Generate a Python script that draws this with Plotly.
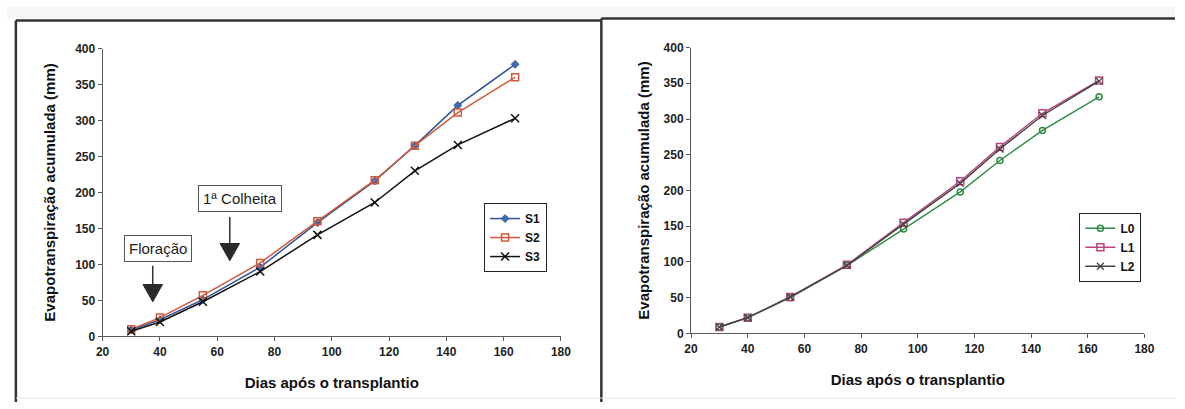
import plotly.graph_objects as go

# Days after transplanting (sampling dates)
dias = [30, 40, 55, 75, 95, 115, 129, 144, 164]

# Accumulated evapotranspiration (mm) by treatment
s1 = [9, 23, 51, 96, 158, 216, 265, 321, 378]
s2 = [10, 26, 57, 102, 160, 217, 265, 311, 360]
s3 = [7, 20, 48, 90, 141, 186, 230, 266, 303]

l0 = [9, 22, 50, 95, 146, 198, 242, 284, 331]
l1 = [9, 22, 51, 96, 155, 213, 261, 308, 354]
l2 = [9, 22, 51, 95, 153, 210, 258, 305, 353]

x_ticks = [20, 40, 60, 80, 100, 120, 140, 160, 180]
y_ticks = [0, 50, 100, 150, 200, 250, 300, 350, 400]

W, H = 1185, 409
FONT = "Liberation Sans, Arial, sans-serif"
AX = "#5a5a5a"


def px_x(p):
    return p / W


def px_y(p):
    return 1 - p / H


fig = go.Figure()

left = [
    ("S1", s1, "#2f5597", dict(symbol="diamond", size=6, color="#3c6db4",
                               line=dict(color="#2f5597", width=1))),
    ("S2", s2, "#d05a3c", dict(symbol="square-open", size=7,
                               line=dict(color="#d05a3c", width=1.5))),
    ("S3", s3, "#111111", dict(symbol="x-thin-open", size=8,
                               line=dict(color="#111111", width=1.5))),
]
for name, ys, col, mk in left:
    fig.add_trace(go.Scatter(x=dias, y=ys, name=name, mode="lines+markers",
                             line=dict(color=col, width=1.5), marker=mk,
                             xaxis="x", yaxis="y", legend="legend"))

right = [
    ("L0", l0, "#2e8b46", dict(symbol="circle-open", size=6,
                               line=dict(color="#2e8b46", width=1.5))),
    ("L1", l1, "#b8457f", dict(symbol="square-open", size=7,
                               line=dict(color="#b8457f", width=1.5))),
    ("L2", l2, "#444444", dict(symbol="x-thin-open", size=7,
                               line=dict(color="#444444", width=1.2))),
]
for name, ys, col, mk in right:
    fig.add_trace(go.Scatter(x=dias, y=ys, name=name, mode="lines+markers",
                             line=dict(color=col, width=1.4), marker=mk,
                             xaxis="x2", yaxis="y2", legend="legend2"))

axis_common = dict(
    showline=True, linecolor=AX, linewidth=1, mirror=False,
    ticks="outside", ticklen=4, tickcolor=AX, tickwidth=1,
    showgrid=False, zeroline=False,
    tickfont=dict(family=FONT, size=12, color="#222", weight="bold"),
    title_font=dict(family=FONT, size=15, color="#111", weight="bold"),
)

xtitle = "Dias após o transplantio"
ytitle = "Evapotranspiração acumulada (mm)"

legend_common = dict(
    xanchor="left", yanchor="top",
    bordercolor="#222", borderwidth=1, bgcolor="white",
    font=dict(family=FONT, size=12, color="#111", weight="bold"),
    tracegroupgap=0, itemwidth=30,
)

fig.update_layout(
    width=W, height=H,
    margin=dict(l=0, r=0, t=0, b=0),
    paper_bgcolor="white", plot_bgcolor="white",
    xaxis=dict(domain=[px_x(97), px_x(562)], range=[20, 180],
               tickvals=x_ticks, anchor="y",
               title=dict(text=xtitle, standoff=19), **axis_common),
    yaxis=dict(domain=[px_y(341), px_y(43)], range=[0, 400],
               tickvals=y_ticks, anchor="x",
               title=dict(text=ytitle, standoff=15), **axis_common),
    xaxis2=dict(domain=[px_x(694), px_x(1154)], range=[20, 180],
                tickvals=x_ticks, anchor="y2",
                title=dict(text=xtitle, standoff=19), **axis_common),
    yaxis2=dict(domain=[px_y(338), px_y(42)], range=[0, 400],
                tickvals=y_ticks, anchor="x2",
                title=dict(text=ytitle, standoff=10), **axis_common),
    legend=dict(x=px_x(484), y=px_y(203), **legend_common),
    legend2=dict(x=px_x(1088), y=px_y(213), **legend_common),
    showlegend=True,
)

# Event labels on the left chart
events = [
    ("Floração", 39.3, 122),
    ("1ª Colheita", 67.8, 191),
]
for text, ex, ey in events:
    fig.add_annotation(x=ex, y=ey, xref="x", yref="y", text=text,
                       showarrow=False, bgcolor="white",
                       bordercolor="#555", borderwidth=1, borderpad=4,
                       font=dict(family=FONT, size=15, color="#222"))

# Downward arrows (shaft + filled head) marking the events
arrows = [(37.5, 98, 72, 48), (64.4, 166, 129, 105)]
half_w = 3.4
for ax_, y_top, y_head, y_tip in arrows:
    fig.add_shape(type="line", xref="x", yref="y", x0=ax_, x1=ax_,
                  y0=y_top, y1=y_head, line=dict(color="#333", width=1.5))
    fig.add_shape(type="path", xref="x", yref="y",
                  path=f"M {ax_-half_w},{y_head} L {ax_+half_w},{y_head} L {ax_},{y_tip} Z",
                  fillcolor="#2a2a2a", line=dict(color="#2a2a2a", width=1))

# Panel frames
frame = dict(color="#333", width=2.5)
fig.add_shape(type="rect", xref="paper", yref="paper", x0=0, x1=1,
              y0=px_y(12), y1=1, fillcolor="#f6f6f6", line=dict(width=0),
              layer="below")
fig.add_shape(type="line", xref="paper", yref="paper",
              x0=px_x(9), x1=px_x(9), y0=0, y1=px_y(14), line=frame)
fig.add_shape(type="line", xref="paper", yref="paper",
              x0=px_x(9), x1=px_x(603), y0=px_y(14), y1=px_y(14), line=frame)
fig.add_shape(type="line", xref="paper", yref="paper",
              x0=px_x(603), x1=px_x(603), y0=0, y1=px_y(12), line=frame)
fig.add_shape(type="line", xref="paper", yref="paper",
              x0=px_x(603), x1=1, y0=px_y(12), y1=px_y(12), line=frame)
fig.add_shape(type="line", xref="paper", yref="paper",
              x0=px_x(9), x1=1, y0=px_y(405), y1=px_y(405),
              line=dict(color="#e6e6e6", width=1))

fig.write_html("out.html")
